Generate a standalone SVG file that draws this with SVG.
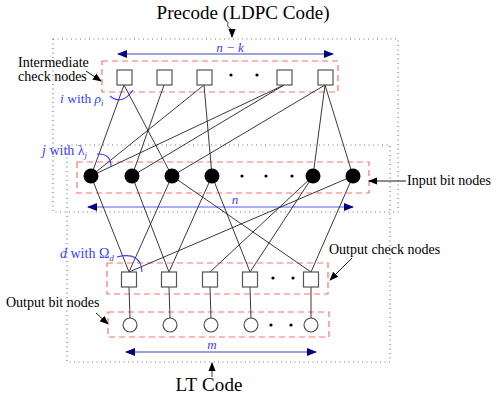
<svg xmlns="http://www.w3.org/2000/svg" width="498" height="399" viewBox="0 0 498 399">
<style>
.t{font-family:"Liberation Serif","DejaVu Serif",serif;fill:#000}
.b{font-family:"Liberation Serif","DejaVu Serif",serif;fill:#3c3cff}
.dot{fill:none;stroke:#777;stroke-width:1.2;stroke-dasharray:1 3.5}
.red{fill:none;stroke:#ff7070;stroke-width:1.2;stroke-dasharray:6 4}
.sq{fill:#fff;stroke:#555;stroke-width:1.2}
.fc{fill:#000}
.oc{fill:#fff;stroke:#444;stroke-width:1.1}
.e{stroke:#222;stroke-width:0.9;fill:none}
.arc{stroke:#3c3cff;stroke-width:1.1;fill:none}
.pt{fill:#000}
</style>
<defs>
<marker id="ah" viewBox="0 0 10 10" refX="9" refY="5" markerWidth="9" markerHeight="9" markerUnits="userSpaceOnUse" orient="auto-start-reverse"><path d="M0,1 L10,5 L0,9 z" fill="#000"/></marker>
<marker id="nv" viewBox="0 0 10 10" refX="9" refY="5" markerWidth="10" markerHeight="10" markerUnits="userSpaceOnUse" orient="auto-start-reverse"><path d="M0,1 L10,5 L0,9 z" fill="#000080"/></marker>
</defs>

<!-- containers -->
<rect class="dot" x="53" y="39" width="345" height="173"/>
<rect class="dot" x="67" y="145" width="323" height="217"/>
<rect class="red" x="102" y="61" width="236" height="31"/>
<rect class="red" x="77" y="162" width="292" height="31"/>
<rect class="red" x="107" y="263" width="221" height="31"/>
<rect class="red" x="108" y="312" width="221" height="25"/>

<!-- titles -->
<text class="t" x="243" y="19" font-size="19" text-anchor="middle" textLength="173">Precode (LDPC Code)</text>
<path class="e" d="M228,23 C226,28 232,28 232,31 L232,37" stroke="#000" marker-end="url(#ah)"/>
<text class="t" x="209" y="391" font-size="19" text-anchor="middle" textLength="67">LT Code</text>
<path class="e" d="M212,377 L212,363" stroke="#000" marker-end="url(#ah)"/>

<!-- dimension arrows -->
<line x1="118" y1="54" x2="333" y2="54" stroke="#a0a0d8" stroke-width="2" marker-start="url(#nv)" marker-end="url(#nv)"/>
<text class="b" x="230" y="52" font-size="13" font-style="italic" text-anchor="middle">n − k</text>
<line x1="88" y1="207" x2="353" y2="207" stroke="#5a5aff" stroke-width="1" marker-start="url(#nv)" marker-end="url(#nv)"/>
<text class="b" x="235" y="204" font-size="13" font-style="italic" text-anchor="middle">n</text>
<line x1="126" y1="352" x2="316" y2="352" stroke="#a0a0d8" stroke-width="2" marker-start="url(#nv)" marker-end="url(#nv)"/>
<text class="b" x="212" y="349" font-size="13" font-style="italic" text-anchor="middle">m</text>

<!-- connectors -->
<g id="connectors">
<line class="e" x1="124" y1="85" x2="91" y2="176"/>
<line class="e" x1="124" y1="85" x2="172" y2="176"/>
<line class="e" x1="164" y1="85" x2="132" y2="176"/>
<line class="e" x1="204" y1="85" x2="91" y2="176"/>
<line class="e" x1="204" y1="85" x2="212" y2="176"/>
<line class="e" x1="284" y1="85" x2="91" y2="176"/>
<line class="e" x1="284" y1="85" x2="132" y2="176"/>
<line class="e" x1="325" y1="85" x2="172" y2="176"/>
<line class="e" x1="325" y1="85" x2="313" y2="176"/>
<line class="e" x1="325" y1="85" x2="353" y2="176"/>

<line class="e" x1="91" y1="176" x2="129" y2="272"/>
<line class="e" x1="132" y1="176" x2="169" y2="272"/>
<line class="e" x1="172" y1="176" x2="129" y2="272"/>
<line class="e" x1="172" y1="176" x2="311" y2="272"/>
<line class="e" x1="212" y1="176" x2="169" y2="272"/>
<line class="e" x1="212" y1="176" x2="250" y2="272"/>
<line class="e" x1="313" y1="176" x2="210" y2="272"/>
<line class="e" x1="313" y1="176" x2="250" y2="272"/>
<line class="e" x1="353" y1="176" x2="129" y2="272"/>
<line class="e" x1="353" y1="176" x2="311" y2="272"/>

<line class="e" x1="129" y1="287" x2="130" y2="318"/>
<line class="e" x1="169" y1="287" x2="170" y2="318"/>
<line class="e" x1="210" y1="287" x2="211" y2="318"/>
<line class="e" x1="250" y1="287" x2="251" y2="318"/>
<line class="e" x1="311" y1="287" x2="311" y2="318"/>
</g>

<!-- intermediate check nodes -->
<g id="c1"><rect class="sq" x="117" y="70" width="15" height="15"/></g>
<g id="c2"><rect class="sq" x="157" y="70" width="15" height="15"/></g>
<g id="c3"><rect class="sq" x="197" y="70" width="15" height="15"/></g>
<g id="c4"><rect class="sq" x="277" y="70" width="15" height="15"/></g>
<g id="c5"><rect class="sq" x="318" y="70" width="15" height="15"/></g>
<circle class="pt" cx="231" cy="75" r="1.6"/>
<circle class="pt" cx="257" cy="75" r="1.6"/>

<!-- input bit nodes -->
<g id="v1"><circle class="fc" cx="91" cy="176" r="7.5"/></g>
<g id="v2"><circle class="fc" cx="132" cy="176" r="7.5"/></g>
<g id="v3"><circle class="fc" cx="172" cy="176" r="7.5"/></g>
<g id="v4"><circle class="fc" cx="212" cy="176" r="7.5"/></g>
<g id="v5"><circle class="fc" cx="313" cy="176" r="7.5"/></g>
<g id="v6"><circle class="fc" cx="353" cy="176" r="7.5"/></g>
<circle class="pt" cx="242" cy="176" r="1.6"/>
<circle class="pt" cx="266" cy="176" r="1.6"/>
<circle class="pt" cx="292" cy="176" r="1.6"/>

<!-- output check nodes -->
<g id="o1"><rect class="sq" x="121.5" y="272" width="15" height="15"/></g>
<g id="o2"><rect class="sq" x="161.5" y="272" width="15" height="15"/></g>
<g id="o3"><rect class="sq" x="202.5" y="272" width="15" height="15"/></g>
<g id="o4"><rect class="sq" x="242.5" y="272" width="15" height="15"/></g>
<g id="o5"><rect class="sq" x="303.5" y="272" width="15" height="15"/></g>
<circle class="pt" cx="273" cy="278" r="1.6"/>
<circle class="pt" cx="293" cy="278" r="1.6"/>

<!-- output bit nodes -->
<g id="b1"><circle class="oc" cx="130" cy="325" r="7"/></g>
<g id="b2"><circle class="oc" cx="170" cy="325" r="7"/></g>
<g id="b3"><circle class="oc" cx="211" cy="325" r="7"/></g>
<g id="b4"><circle class="oc" cx="251" cy="325" r="7"/></g>
<g id="b5"><circle class="oc" cx="311" cy="325" r="7"/></g>
<circle class="pt" cx="271" cy="325" r="1.6"/>
<circle class="pt" cx="291" cy="325" r="1.6"/>

<!-- degree labels -->
<text class="b" x="60" y="103" font-size="13.5"><tspan font-style="italic">i</tspan> with <tspan font-style="italic">ρ</tspan><tspan font-style="italic" font-size="9" dy="3">i</tspan></text>
<path class="arc" d="M110,96 Q122,106 133,90"/>
<text class="b" x="42" y="155" font-size="14"><tspan font-style="italic">j</tspan> with λ<tspan font-style="italic" font-size="9" dy="3">j</tspan></text>
<path class="arc" d="M97,154 Q111,153 111,167"/>
<text class="b" x="60" y="258" font-size="14"><tspan font-style="italic">d</tspan> with Ω<tspan font-style="italic" font-size="9" dy="3">d</tspan></text>
<path class="arc" d="M117,257 Q141,251 142,272"/>

<!-- annotations -->
<text class="t" x="18" y="67" font-size="14">Intermediate</text>
<text class="t" x="18" y="81" font-size="14">check nodes</text>
<line x1="86" y1="71" x2="101" y2="81" stroke="#000" stroke-width="0.9" marker-end="url(#ah)"/>
<text class="t" x="407" y="185" font-size="14">Input bit nodes</text>
<line x1="406" y1="181" x2="369" y2="181" stroke="#000" stroke-width="0.9" marker-end="url(#ah)"/>
<text class="t" x="329" y="254" font-size="14">Output check nodes</text>
<line x1="352" y1="258" x2="330" y2="280" stroke="#000" stroke-width="0.9" marker-end="url(#ah)"/>
<text class="t" x="6" y="307" font-size="14">Output bit nodes</text>
<line x1="96" y1="313" x2="108" y2="324" stroke="#000" stroke-width="0.9" marker-end="url(#ah)"/>
</svg>
